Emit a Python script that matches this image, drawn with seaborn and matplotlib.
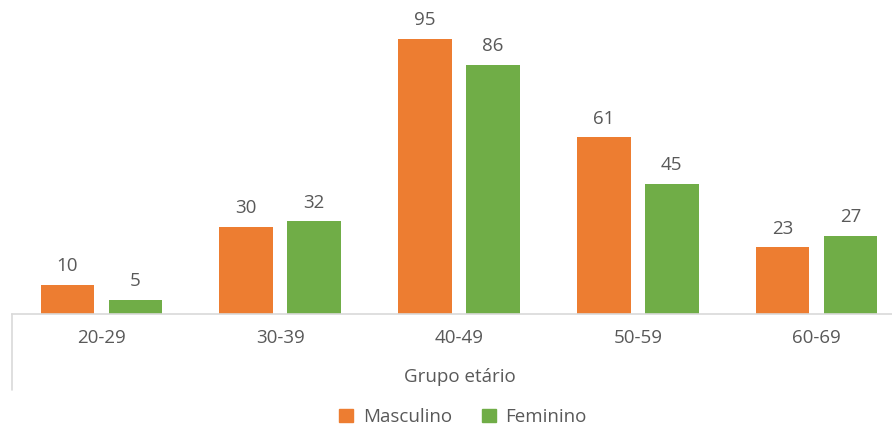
import matplotlib
matplotlib.use("Agg")
import matplotlib.pyplot as plt
import seaborn as sns
import pandas as pd

categories = ["20-29", "30-39", "40-49", "50-59", "60-69"]
masculino = [10, 30, 95, 61, 23]
feminino = [5, 32, 86, 45, 27]
series_names = ["Masculino", "Feminino"]
colors = ["#ED7D31", "#70AD47"]
text_color = "#595959"

df = pd.DataFrame({
    "Grupo": categories * 2,
    "Valor": masculino + feminino,
    "Sexo": [series_names[0]] * len(categories) + [series_names[1]] * len(categories),
})

sns.set_style("white")
plt.rcParams["font.family"] = ["Open Sans", "DejaVu Sans"]

W, H = 892, 428
fig = plt.figure(figsize=(W / 100, H / 100), dpi=100)
left_px, base_px = 12, 314
ax = fig.add_axes([left_px / W, (H - base_px) / H, (W - left_px) / W, base_px / H])

sns.barplot(data=df, x="Grupo", y="Valor", hue="Sexo", order=categories,
            hue_order=series_names, palette=colors, width=0.76, gap=0.21,
            ax=ax, legend=False, saturation=1, edgecolor="none")

fs = 13.5
for cont in ax.containers:
    ax.bar_label(cont, padding=7, fontsize=fs, color=text_color)

ax.set_xlim(-0.5, -0.5 + (W - left_px) / 178.8)
ax.set_ylim(0, base_px / 2.895)
for s in ["top", "right", "left"]:
    ax.spines[s].set_visible(False)
ax.spines["bottom"].set_color("#D9D9D9")
ax.spines["bottom"].set_linewidth(1.2)
ax.set_yticks([])
ax.set_ylabel("")
ax.tick_params(axis="x", length=0, pad=11, labelsize=fs, labelcolor=text_color)
ax.set_xlabel("Grupo etário", fontsize=fs, color=text_color, va="center")
ax.xaxis.set_label_coords((460 - left_px) / (W - left_px), -63 / base_px)
ax.plot([0, 0], [0, -76 / base_px], transform=ax.transAxes, color="#D9D9D9",
        lw=1.2, clip_on=False)

handles = [plt.Rectangle((0, 0), 1, 1, color=c) for c in colors]
fig.legend(handles, series_names, loc="center", bbox_to_anchor=(463 / W, 1 - 417 / H),
           ncol=2, frameon=False, fontsize=fs, labelcolor=text_color,
           handlelength=0.75, handleheight=0.75, handletextpad=0.5, columnspacing=1.6)

fig.savefig("out.png", dpi=100)
